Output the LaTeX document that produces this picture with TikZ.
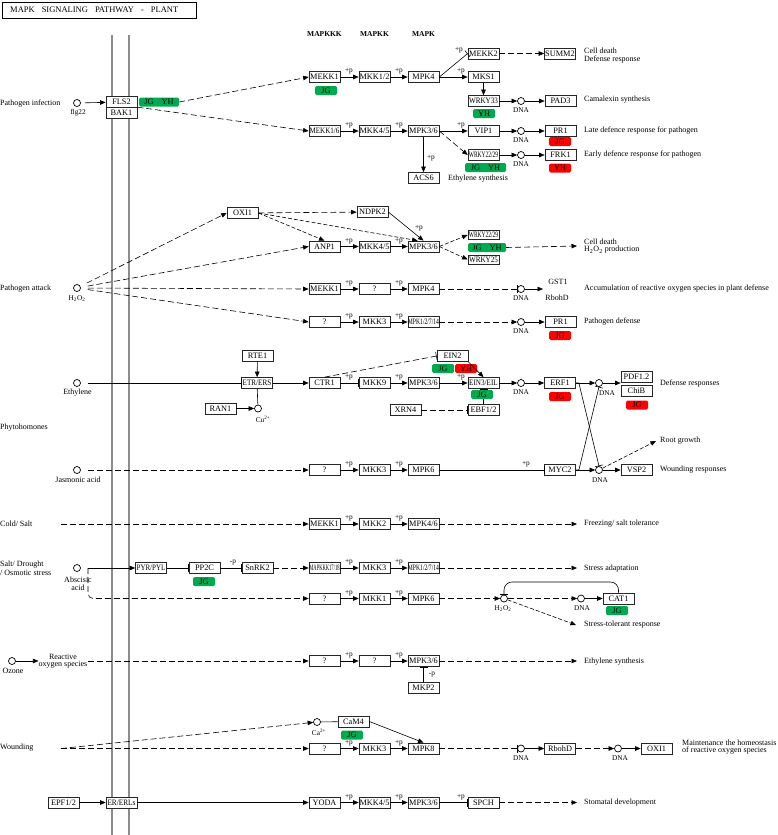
\documentclass[tikz,border=0pt]{standalone}
\usepackage{fontspec}
\setmainfont{Liberation Serif}
\usepackage{graphicx}
\usetikzlibrary{arrows.meta}
\definecolor{kgreen}{RGB}{0,170,80}
\definecolor{kred}{RGB}{255,0,0}
\definecolor{memb}{RGB}{140,140,140}
\newcommand\sq[2][0.85]{\scalebox{#1}[1]{#2}}
\newcommand\gf{\fontsize{8.3}{9}\selectfont}
\newcommand\lf{\fontsize{8}{8.5}\selectfont}
\newcommand\sfnt{\fontsize{7.3}{8}\selectfont}
\newcommand\kch[5]{%
  \node[gene] (#1a) at (324.5,#2) {#3};
  \node[gene] (#1b) at (374.5,#2) {#4};
  \node[gene] (#1c) at (423.5,#2) {#5};
  \draw[arr] (#1a) -- (#1b);
  \draw[arr] (#1b) -- (#1c);
  \node[pl] (#1p) at (349,#2-5.5) {+p};
  \node[pl] (#1q) at (399,#2-5.5) {+p};}
\begin{document}
\begin{tikzpicture}[x=1pt,y=-1pt,
  gene/.style={draw=black!85, fill=white, line width=0.7pt, minimum width=31pt, minimum height=11pt, inner sep=0pt, font=\gf},
  gn/.style={fill=kgreen, rounded corners=1.5pt, minimum height=9pt, minimum width=22pt, inner sep=0pt, font=\gf},
  rd/.style={fill=kred, rounded corners=1.5pt, minimum height=9pt, minimum width=22pt, inner sep=0pt, font=\gf},
  cpd/.style={circle, draw, line width=0.7pt, fill=white, minimum size=7pt, inner sep=0pt},
  lb/.style={font=\lf, inner sep=0pt, anchor=west},
  tx/.style={font=\lf, inner sep=0pt},
  sm/.style={font=\sfnt, inner sep=0pt},
  pl/.style={font=\sfnt, inner sep=0pt},
  ln/.style={line width=0.6pt},
  arr/.style={ln, -{Triangle[length=5.5pt,width=4.5pt]}},
  inh/.style={ln, -{Bar[width=8pt]}},
  dsh/.style={dash pattern=on 6pt off 3pt},
  fdsh/.style={dash pattern=on 4pt off 2pt},
]
\fill[white] (0,0) rectangle (778,835);
\useasboundingbox (0,0) rectangle (778,835);
% membrane
\draw[memb, line width=2.6pt] (112,35) -- (112,835);
\draw[memb, line width=2.6pt] (129,35) -- (129,835);
% title
\node[draw, line width=1.2pt, minimum width=194pt, minimum height=16pt, anchor=north west, inner sep=0pt] (title) at (2,2) {};
\node[font=\fontsize{8.5}{9}\selectfont, anchor=west, inner sep=0pt] (titletext) at (10,10) {MAPK\hspace{7pt}SIGNALING\hspace{7pt}PATHWAY\hspace{7pt}-\hspace{7pt}PLANT};
% headers
\node[font=\fontsize{7.5}{8}\selectfont\bfseries] (h1) at (324.5,34) {MAPKKK};
\node[font=\fontsize{7.5}{8}\selectfont\bfseries] (h2) at (374.5,34) {MAPKK};
\node[font=\fontsize{7.5}{8}\selectfont\bfseries] (h3) at (423.5,34) {MAPK};

% ===== Pathogen infection
\node[lb] (L1) at (0,104) {Pathogen infection};
\node[cpd] (flg) at (77,103) {};
\node[sm] (flgl) at (78,113) {flg22};
\node[gene] (FLS2) at (121.5,102) {FLS2};
\node[gene] (BAK1) at (121.5,113) {BAK1};
\node[gn, minimum width=40pt] (g1) at (159,102) {JG\hspace{8pt}YH};
\draw[arr, shorten <=4pt] (flg) -- (FLS2);
\kch{r1}{77}{MEKK1}{MKK1/2}{MPK4}
\kch{r2}{131}{\sq{MEKK1/6}}{MKK4/5}{MPK3/6}
\node[gn] (g2) at (326,90.5) {JG};
\draw[arr,dsh] (g1.east) -- (r1a.west);
\draw[arr,dsh] (BAK1.north east) -- (r2a.west);
\node[gene] (MEKK2) at (483.5,53.5) {MEKK2};
\node[gene] (SUMM2) at (560,53.5) {SUMM2};
\node[lb] (L2) at (584,51) {Cell death};
\node[lb] (L3) at (584,59.5) {Defense response};
\draw[inh] (r1c.east) -- (MEKK2.west);
\node[pl] (p1) at (459,50) {+p};
\draw[arr,dsh] (MEKK2) -- (SUMM2);
\node[gene] (MKS1) at (483.5,77) {MKS1};
\draw[arr] (r1c) -- (MKS1);
\node[pl] (p2) at (461,71.5) {+p};
\node[gene] (WRKY33) at (483.5,101) {\sq[0.86]{WRKY33}};
\draw[arr] (MKS1) -- (WRKY33);
\node[gn] (g3) at (484,113.5) {YH};
\node[cpd] (d1) at (521,101) {};
\node[sm] (d1l) at (521,110.5) {DNA};
\node[gene] (PAD3) at (560.5,101) {PAD3};
\draw[arr] (WRKY33) -- (d1);
\draw[arr] (d1) -- (PAD3);
\node[lb] (L4) at (584,100) {Camalexin synthesis};
\node[gene] (VIP1) at (483.5,131) {VIP1};
\draw[arr] (r2c) -- (VIP1);
\node[pl] (p3) at (461,125.5) {+p};
\node[cpd] (d2) at (521,131) {};
\node[sm] (d2l) at (521,140.5) {DNA};
\node[gene] (PR1a) at (560.5,131) {PR1};
\node[rd] (rj1) at (560,141.5) {JG};
\draw[arr] (VIP1) -- (d2);
\draw[arr] (d2) -- (PR1a);
\node[lb] (L5) at (584,131) {Late defence response for pathogen};
\node[gene] (WRa) at (483.5,155) {\sq[0.66]{WRKY22/29}};
\draw[arr,dsh] (r2c.east) -- (WRa.west);
\node[gn, minimum width=41pt] (g4) at (485.5,167.5) {JG\hspace{8pt}YH};
\node[cpd] (d3) at (521,155) {};
\node[sm] (d3l) at (521,164.5) {DNA};
\node[gene] (FRK1) at (560.5,155) {FRK1};
\node[rd] (ry1) at (560,168) {YH};
\draw[arr] (WRa) -- (d3);
\draw[arr] (d3) -- (FRK1);
\node[lb] (L6) at (584,155) {Early defence response for pathogen};
\node[gene] (ACS6) at (423.5,178) {ACS6};
\draw[arr] (r2c) -- (ACS6);
\node[pl] (p4) at (431,158) {+p};
\node[lb] (L7) at (448,179) {Ethylene synthesis};

% ===== Pathogen attack
\node[lb] (L8) at (0,289) {Pathogen attack};
\node[cpd] (h2o2) at (77,288) {};
\node[sm] (h2o2l) at (77,298.5) {H\textsubscript{2}O\textsubscript{2}};
\node[gene] (OXI1a) at (242.5,213) {OXI1};
\node[gene] (NDPK2) at (372.5,212) {NDPK2};
\kch{r3}{246.5}{ANP1}{MKK4/5}{MPK3/6}
\draw[arr,dsh,shorten <=7pt] (h2o2) -- (OXI1a.west);
\draw[arr,dsh,shorten <=7pt] (h2o2) -- (r3a.west);
\draw[arr,dsh] (OXI1a) -- (NDPK2);
\draw[arr,fdsh] (OXI1a.east) -- (r3a.north);
\draw[arr,fdsh] (OXI1a.east) -- (r3c.135);
\draw[arr] (NDPK2.east) -- (r3c.north);
\node[pl] (p5) at (419,228) {+p};
\node[gene, minimum height=9pt] (WRb) at (483.5,235) {\sq[0.66]{WRKY22/29}};
\node[gn, minimum width=38pt] (g5) at (487,247.5) {JG\hspace{8pt}YH};
\node[gene, minimum height=9pt] (WRKY25) at (483.5,259.5) {\sq[0.86]{WRKY25}};
\draw[arr,fdsh] (r3c.east) -- (WRb.west);
\draw[arr,fdsh] (r3c.east) -- (WRKY25.west);
\coordinate (e1) at (577,246);
\draw[arr,dsh] (g5.east) -- (e1);
\node[lb] (L9) at (584,242) {Cell death};
\node[lb] (L10) at (584,250) {H\textsubscript{2}O\textsubscript{2} production};
\kch{r4}{289}{MEKK1}{?}{MPK4}
\draw[arr,dsh,shorten <=7pt] (h2o2) -- (r4a.west);
\node[cpd] (d4) at (521,289) {};
\node[sm] (d4l) at (521,298.5) {DNA};
\draw[inh,dsh] (r4c) -- (d4);
\coordinate (e2) at (543,289);
\draw[arr] (d4) -- (e2);
\node[tx] (GST1) at (558,282) {GST1};
\node[tx] (Rboh1) at (557,297.5) {RbohD};
\node[lb] (L11) at (584,289) {Accumulation of reactive oxygen species in plant defense};
\kch{r5}{322}{?}{MKK3}{\sq[0.68]{MPK1/2/7/14}}
\draw[arr,dsh,shorten <=7pt] (h2o2) -- (r5a.west);
\node[cpd] (d5) at (521,322) {};
\node[sm] (d5l) at (521,331.5) {DNA};
\draw[arr,dsh] (r5c) -- (d5);
\node[gene] (PR1b) at (560.5,322) {PR1};
\node[rd] (rj2) at (560,335.5) {JG};
\draw[arr] (d5) -- (PR1b);
\node[lb] (L12) at (584,322) {Pathogen defense};

% ===== Ethylene
\node[cpd] (eth) at (77,383) {};
\node[tx] (ethl) at (77.5,393) {Ethylene};
\node[gene] (RTE1) at (257.5,356) {RTE1};
\node[gene] (ETR) at (257,383) {\sq[0.86]{ETR/ERS}};
\draw[inh,shorten <=7pt] (eth) -- (ETR);
\draw[arr] (RTE1) -- (ETR);
\node[gene] (RAN1) at (220.5,408.5) {RAN1};
\node[cpd] (cu) at (258,408.5) {};
\node[sm] (cul) at (263,419) {Cu\textsuperscript{2+}};
\draw[arr] (RAN1) -- (cu);
\draw[ln] (ETR) -- (cu);
\node[gene] (CTR1) at (324.5,383) {CTR1};
\draw[arr] (ETR) -- (CTR1);
\node[gene] (MKK9) at (374.5,383) {MKK9};
\node[gene] (MPKe) at (423.5,383) {MPK3/6};
\draw[inh] (CTR1) -- (MKK9);
\node[pl] (p6) at (349,377.5) {+p};
\draw[arr] (MKK9) -- (MPKe);
\node[pl] (p7) at (399,377.5) {+p};
\node[gene] (EIN3) at (483.5,383) {\sq[0.86]{EIN3/EIL}};
\draw[arr] (MPKe) -- (EIN3);
\node[pl] (p8) at (461,377.5) {+p};
\node[gene] (EIN2) at (452.5,356) {EIN2};
\draw[inh,dsh] (CTR1.north) -- (EIN2.west);
\node[gn] (g6) at (443,368.5) {JG};
\node[rd] (ry2) at (466,368.5) {YH};
\draw[arr] (EIN2.south east) -- (EIN3.north);
\node[gene] (EBF) at (483.5,410) {EBF1/2};
\node[gene] (XRN4) at (405.5,410) {XRN4};
\draw[inh,dsh] (XRN4) -- (EBF);
\draw[inh] (EBF) -- (EIN3);
\node[gn] (g7) at (482,394.5) {JG};
\node[cpd] (d6) at (521,383) {};
\node[sm] (d6l) at (521,392.5) {DNA};
\draw[arr] (EIN3) -- (d6);
\node[gene] (ERF1) at (560,383) {ERF1};
\node[rd] (rj3) at (560,396.5) {JG};
\draw[arr] (d6) -- (ERF1);
\node[cpd] (d7) at (599,383) {};
\node[sm] (d7l) at (607,393) {DNA};
\draw[arr] (ERF1) -- (d7);
\node[gene] (PDF) at (636.5,376.5) {PDF1.2};
\node[gene] (ChiB) at (636.5,390.5) {ChiB};
\node[rd] (rj4) at (637,405) {JG};
\draw[arr] (d7) -- (d7 -| PDF.west);
\node[lb] (L13) at (660,383.5) {Defense responses};
\node[lb] (L14) at (0,428) {Phytohomones};

% ===== Jasmonic acid
\node[cpd] (jas) at (77,470) {};
\node[tx] (jasl) at (78,480) {Jasmonic acid};
\kch{r6}{470}{?}{MKK3}{MPK6}
\draw[arr,dsh,shorten <=7pt] (jas) -- (r6a);
\node[gene] (MYC2) at (560,470) {MYC2};
\draw[inh] (r6c) -- (MYC2);
\node[pl] (p9) at (526,464) {+p};
\node[cpd] (d8) at (599,470) {};
\node[sm] (d8l) at (600,480) {DNA};
\draw[arr] (MYC2) -- (d8);
\node[gene] (VSP2) at (636.5,470) {VSP2};
\draw[arr] (d8) -- (VSP2);
\node[lb] (L15) at (660,470) {Wounding responses};
\coordinate (rg) at (656,441);
\draw[arr,fdsh] (d8) -- (rg);
\node[lb] (L16) at (660,441) {Root growth};
\draw[inh] (ERF1.east) -- ++(3,0) -- (d8.north);
\draw[inh] (MYC2.east) -- ++(3,0) -- (d7.south);

% ===== Cold / Salt
\node[lb] (L17) at (0,524) {Cold/ Salt};
\coordinate (csj) at (61,524);
\kch{r7}{524}{MEKK1}{MKK2}{MPK4/6}
\draw[arr,dsh] (csj) -- (r7a);
\coordinate (e3) at (577,524);
\draw[arr,dsh] (r7c) -- (e3);
\node[lb] (L18) at (584,524) {Freezing/ salt tolerance};

% ===== Salt / Drought
\node[lb] (L19) at (0,565) {Salt/ Drought};
\node[lb] (L20) at (0,573) {/ Osmotic stress};
\node[cpd] (aba) at (77,568) {};
\node[tx] (abal1) at (78,580) {Abscisic};
\node[tx] (abal2) at (78,588) {acid};
\coordinate (abj) at (88,568);
\node[gene] (PYR) at (151,568) {\sq[0.84]{PYR/PYL}};
\node[gene] (PP2C) at (204.5,568) {PP2C};
\node[gn] (g8) at (204,581.5) {JG};
\node[gene] (SnRK2) at (257.5,568) {SnRK2};
\draw[arr] (abj) -- (PYR);
\draw[inh] (PYR) -- (PP2C);
\draw[inh] (PP2C) -- (SnRK2);
\node[pl] (p10) at (233,563) {-p};
\kch{r8}{568}{\sq[0.55]{MAPKKK17/18}}{MKK3}{\sq[0.68]{MPK1/2/7/14}}
\draw[arr,dsh] (SnRK2) -- (r8a);
\coordinate (e4) at (577,568);
\draw[arr,dsh] (r8c) -- (e4);
\node[lb] (L21) at (584,569) {Stress adaptation};
\kch{r9}{598.5}{?}{MKK1}{MPK6}
\draw[arr,dsh,rounded corners=5pt] (abj) |- (r9a.west);
\node[cpd] (h2b) at (504,598.5) {};
\node[sm] (h2bl) at (503,608.5) {H\textsubscript{2}O\textsubscript{2}};
\draw[arr,dsh] (r9c) -- (h2b);
\node[cpd] (d9) at (581,598.5) {};
\node[sm] (d9l) at (582,608.5) {DNA};
\draw[arr,dsh] (h2b) -- (d9);
\node[gene] (CAT1) at (618.5,598.5) {CAT1};
\node[gn] (g9) at (617,610.5) {JG};
\draw[arr] (d9) -- (CAT1);
\draw[inh,rounded corners=8pt] (CAT1.north) |- (h2b |- 0,582) -- (h2b.north);
\coordinate (e5) at (576,625);
\draw[arr,fdsh] (h2b) -- (e5);
\node[lb] (L22) at (584,625) {Stress-tolerant response};

% ===== Ozone
\node[cpd] (oz) at (12,661) {};
\node[tx] (ozl) at (13,671) {Ozone};
\node[tx, align=center, font=\fontsize{8}{7.5}\selectfont] (ros) at (63,661) {Reactive\\oxygen species};
\draw[arr] (oz) -- (ros.west);
\kch{r10}{661}{?}{?}{MPK3/6}
\draw[arr,dsh] (ros.east) -- (r10a);
\coordinate (e6) at (577,661);
\draw[arr,dsh] (r10c) -- (e6);
\node[lb] (L23) at (584,661.5) {Ethylene synthesis};
\node[gene] (MKP2) at (423.5,688) {MKP2};
\draw[inh] (MKP2) -- (r10c);
\node[pl] (p11) at (432,675) {-p};

% ===== Wounding
\node[lb] (L24) at (0,748) {Wounding};
\coordinate (wj) at (61,748.5);
\node[cpd] (ca) at (317,722) {};
\node[sm] (cal) at (319,732) {Ca\textsuperscript{2+}};
\node[gene] (CaM4) at (353.5,721.5) {CaM4};
\node[gn] (g10) at (352,735) {JG};
\draw[arr,dsh] (wj) -- (ca);
\draw[ln] (ca) -- (CaM4);
\kch{r11}{748.5}{?}{MKK3}{MPK8}
\draw[arr,dsh] (wj) -- (r11a);
\draw[arr] (CaM4.east) -- (r11c.north);
\node[cpd] (d10) at (521,748.5) {};
\node[sm] (d10l) at (521,758.5) {DNA};
\draw[inh,dsh] (r11c) -- (d10);
\node[gene] (RbohD) at (560,748.5) {RbohD};
\draw[arr] (d10) -- (RbohD);
\node[cpd] (d11) at (618,748.5) {};
\node[sm] (d11l) at (620,758.5) {DNA};
\draw[arr,dsh] (RbohD) -- (d11);
\node[gene] (OXI1b) at (656.5,748.5) {OXI1};
\draw[arr] (d11) -- (OXI1b);
\node[lb] (L25) at (682,743) {Maintenance the homeostasis};
\node[lb] (L26) at (682,751) {of reactive oxygen species};

% ===== EPF
\node[gene] (EPF) at (63.5,802.5) {EPF1/2};
\node[gene] (ER) at (121.5,802.5) {\sq[0.88]{ER/ERLs}};
\draw[arr] (EPF) -- (ER);
\kch{r12}{802.5}{YODA}{MKK4/5}{MPK3/6}
\draw[arr] (ER) -- (r12a);
\node[gene] (SPCH) at (483.5,802.5) {SPCH};
\draw[inh] (r12c) -- (SPCH);
\node[pl] (p12) at (461,797) {+p};
\coordinate (e7) at (577,802.5);
\draw[arr,dsh] (SPCH) -- (e7);
\node[lb] (L27) at (584,802.5) {Stomatal development};
\end{tikzpicture}
\end{document}
